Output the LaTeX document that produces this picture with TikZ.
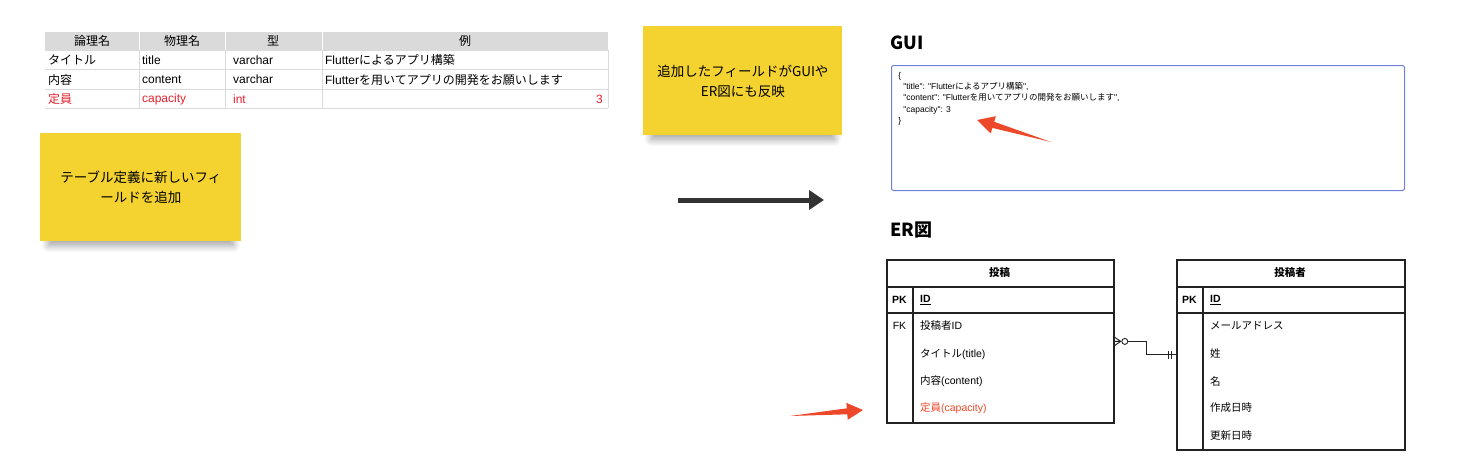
\documentclass[tikz,border=0pt]{standalone}
\usepackage{fontspec}
\setmainfont{Noto Sans CJK JP}
\newfontfamily\latfont{Liberation Sans}
\newcommand{\lat}[1]{{\latfont #1}}
\usetikzlibrary{calc,arrows.meta,shadows.blur}

\definecolor{noteyellow}{RGB}{244,210,48}
\definecolor{tblred}{RGB}{226,32,44}
\definecolor{tblgray}{RGB}{218,218,218}
\definecolor{guiblue}{RGB}{112,128,222}
\definecolor{arrowred}{RGB}{238,72,42}
\definecolor{erblack}{RGB}{34,34,34}
\definecolor{bigarrow}{RGB}{51,51,51}

\tikzset{every picture/.style={line width=0.75pt}}
\tikzset{
  tblhead/.style={inner sep=0.75pt,font=\fontsize{12}{14}\selectfont},
  tblcell/.style={anchor=west,inner sep=0.75pt,font=\fontsize{12}{14}\selectfont},
  tblline/.style={draw=tblgray,line width=0.8pt},
  note/.style={fill=noteyellow,align=center,inner sep=0pt,font=\fontsize{13.5}{20}\selectfont,
    blur shadow={shadow xshift=0pt,shadow yshift=-9pt,shadow scale=0.92,shadow opacity=38,shadow blur steps=12,shadow blur radius=8pt}},
  heading/.style={anchor=west,inner sep=0.75pt,font=\fontsize{18}{20}\selectfont\bfseries},
  entity/.style={draw=erblack,line width=1.8pt,anchor=north west,inner sep=0pt},
  erline/.style={draw=erblack,line width=1.8pt},
  ertext/.style={anchor=west,inner sep=0.75pt,font=\fontsize{10.5}{12}\selectfont},
  erkey/.style={inner sep=0.75pt,font=\fontsize{10.5}{12}\selectfont\bfseries},
}

\begin{document}
\begin{tikzpicture}[x=1pt,y=1pt,yscale=-1,xscale=1]
\useasboundingbox (0,0) rectangle (1464,471);

%Shape: Table header
\fill[tblgray] (45,32) rectangle (608,50);
%Straight Lines: table rows and columns
\draw[tblline] (45,50) -- (608,50);
\draw[tblline] (45,69.5) -- (608,69.5);
\draw[tblline] (45,89) -- (608,89);
\draw[tblline] (45,108) -- (608,108);
\draw[draw=white,line width=0.8pt] (139,32) -- (139,50) (225,32) -- (225,50) (322,32) -- (322,50);
\draw[tblline] (139,50) -- (139,108) (225,50) -- (225,108) (322,50) -- (322,108) (608,50) -- (608,108);

% Text Node: header
\node[tblhead] (hdLogical) at (92,41) {論理名};
\node[tblhead] (hdPhysical) at (182,41) {物理名};
\node[tblhead] (hdType) at (273,41) {型};
\node[tblhead] (hdExample) at (465,41) {例};
% Text Node: rows
\node[tblcell] (rTitleL) at (47,60) {タイトル};
\node[tblcell] (rTitleP) at (141,60) {\lat{title}};
\node[tblcell] (rTitleT) at (232,60) {\lat{varchar}};
\node[tblcell] (rTitleE) at (324,60) {\lat{Flutter}によるアプリ構築};
\node[tblcell] (rContentL) at (47,79.5) {内容};
\node[tblcell] (rContentP) at (141,79.5) {\lat{content}};
\node[tblcell] (rContentT) at (232,79.5) {\lat{varchar}};
\node[tblcell] (rContentE) at (324,79.5) {\lat{Flutter}を用いてアプリの開発をお願いします};
\node[tblcell,text=tblred] (rCapL) at (47,99) {定員};
\node[tblcell,text=tblred] (rCapP) at (141,99) {\lat{capacity}};
\node[tblcell,text=tblred] (rCapT) at (232,99) {\lat{int}};
\node[tblcell,text=tblred,anchor=east] (rCapE) at (604,99) {\lat{3}};

%Shape: Sticky notes
\node[note,minimum width=201pt,minimum height=108pt,anchor=north west] (noteTable) at (40,133)
  {テーブル定義に新しいフィ\\ールドを追加};
\node[note,minimum width=199pt,minimum height=109pt,anchor=north west] (noteGui) at (643,26)
  {追加したフィールドがGUIや\\ER図にも反映};

%Straight Lines: big arrow
\coordinate (bigFrom) at (678,200);
\coordinate (bigTo) at (824,200);
\draw[bigarrow,line width=5pt,-{Triangle[length=15pt,width=19pt]}] (bigFrom) -- (bigTo);

% Text Node: GUI
\node[heading] (hGui) at (889,43) {GUI};
%Shape: Rectangle
\node[draw=guiblue,line width=1pt,rounded corners=2pt,minimum width=513pt,minimum height=125pt,anchor=north west] (guiBox) at (891,65) {};
\node[anchor=north west,align=left,inner sep=0pt,font=\fontsize{8.5}{11.2}\selectfont] (guiJson) at (898,72)
  {\lat{\{}\\
   \hspace*{5pt}\lat{"title": "Flutter}によるアプリ構築\lat{",}\\
   \hspace*{5pt}\lat{"content": "Flutter}を用いてアプリの開発をお願いします\lat{",}\\
   \hspace*{5pt}\lat{"capacity": 3}\\
   \lat{\}}};

%Shape: red arrow (GUI)
\coordinate (guiTail) at (1051,142);
\coordinate (guiTip) at (977,120);
\coordinate (guiNeck) at ($(guiTip)!17pt!(guiTail)$);
\fill[arrowred] (guiTail) -- ($(guiNeck)!3.2pt!90:(guiTip)$) -- ($(guiNeck)!9pt!90:(guiTip)$) -- (guiTip)
  -- ($(guiNeck)!9pt!-90:(guiTip)$) -- ($(guiNeck)!3.2pt!-90:(guiTip)$) -- cycle;

% Text Node: ER
\node[heading] (hEr) at (889,230) {ER図};

%Shape: Entity post
\node[entity,minimum width=227pt,minimum height=163pt] (post) at (886,259) {};
\draw[erline] (886,287) -- (1113,287);
\draw[erline] (886,313) -- (1113,313);
\draw[erline] (913,287) -- (913,422);
\node[erkey] (postName) at (999.5,273) {投稿};
\node[erkey] (postPk) at (899.5,300) {\lat{PK}};
\node[ertext,font=\fontsize{10.5}{12}\selectfont\bfseries] (postId) at (919,300) {\underline{\lat{ID}}};
\node[inner sep=0.75pt,font=\fontsize{10.5}{12}\selectfont] (postFk) at (899.5,326) {\lat{FK}};
\node[ertext] (postAuthor) at (919,326) {投稿者\lat{ID}};
\node[ertext] (postTitle) at (919,354) {タイトル\lat{(title)}};
\node[ertext] (postContent) at (919,381) {内容\lat{(content)}};
\node[ertext,text=arrowred] (postCap) at (919,408) {定員\lat{(capacity)}};

%Shape: Entity author
\node[entity,minimum width=228pt,minimum height=190pt] (author) at (1176,259) {};
\draw[erline] (1176,287) -- (1404,287);
\draw[erline] (1176,313) -- (1404,313);
\draw[erline] (1203,287) -- (1203,449);
\node[erkey] (authorName) at (1290,273) {投稿者};
\node[erkey] (authorPk) at (1189.5,300) {\lat{PK}};
\node[ertext,font=\fontsize{10.5}{12}\selectfont\bfseries] (authorId) at (1209,300) {\underline{\lat{ID}}};
\node[ertext] (authorMail) at (1209,326) {メールアドレス};
\node[ertext] (authorLast) at (1209,354) {姓};
\node[ertext] (authorFirst) at (1209,381) {名};
\node[ertext] (authorCreated) at (1209,408) {作成日時};
\node[ertext] (authorUpdated) at (1209,436) {更新日時};

%Straight Lines: relation
\draw[erblack,line width=0.9pt] (post.east) ++(13,0) -- ++(19,0) |- (author.west);
% crow's foot, zero or many
\draw[erblack,line width=0.9pt] (post.east) ++(6,0) -- ++(-6,-4) (post.east) ++(6,0) -- ++(-6,4) (post.east) -- ++(6,0);
\draw[erblack,line width=0.9pt,fill=white] (post.east) ++(10,0) circle (3);
% one and only one
\draw[erblack,line width=0.9pt] (author.west) ++(-8,-4) -- ++(0,8) (author.west) ++(-5,-4) -- ++(0,8);

%Shape: red arrow (ER)
\coordinate (erTail) at (790,416);
\coordinate (erTip) at (863,410);
\coordinate (erNeck) at ($(erTip)!16pt!(erTail)$);
\fill[arrowred] (erTail) -- ($(erNeck)!3pt!90:(erTip)$) -- ($(erNeck)!8.5pt!90:(erTip)$) -- (erTip)
  -- ($(erNeck)!8.5pt!-90:(erTip)$) -- ($(erNeck)!3pt!-90:(erTip)$) -- cycle;

\end{tikzpicture}
\end{document}
